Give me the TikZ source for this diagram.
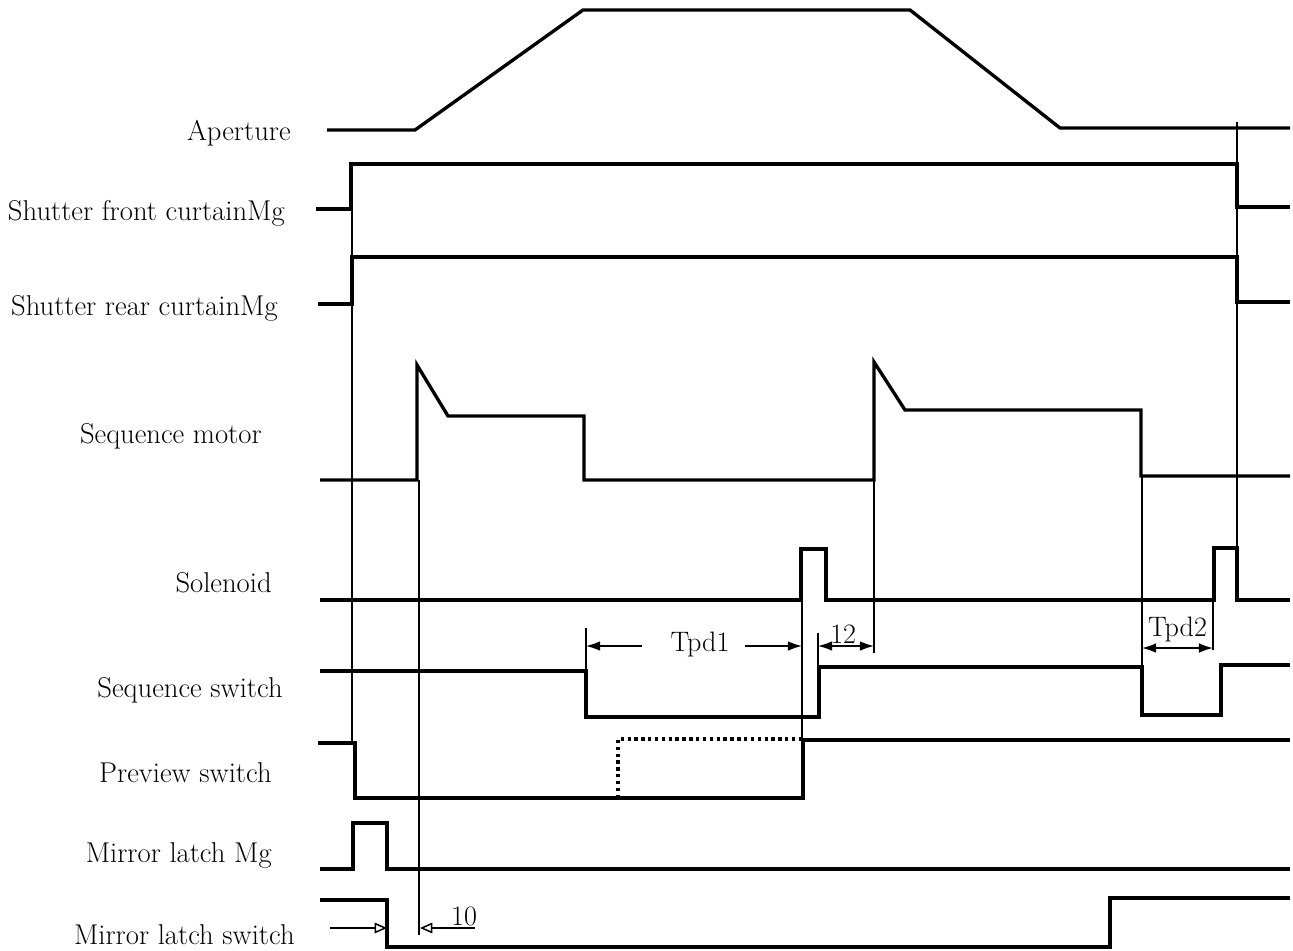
\documentclass[tikz,border=0pt]{standalone}
\usetikzlibrary{arrows.meta}
\tikzset{
  sig/.style={line width=1.9pt, line join=miter},
  guide/.style={line width=0.85pt},
  dim/.style={line width=0.85pt, {Latex[length=8pt,width=5.5pt]}-{Latex[length=8pt,width=5.5pt]}},
  dimr/.style={line width=0.85pt, -{Latex[length=8pt,width=5.5pt]}},
  opentip/.style={line width=0.85pt, -{Triangle[open,length=7pt,width=6pt]}},
  lbl/.style={anchor=east, inner sep=0pt, font=\fontsize{16.3}{19}\selectfont},
  dimlbl/.style={inner sep=1pt, font=\fontsize{16}{19}\selectfont},
}
\begin{document}
\begin{tikzpicture}[x=0.02cm, y=-0.02cm]
  \useasboundingbox (0,0) rectangle (1293,950);
  \def\r{1290}

  \node[lbl] (ap) at (291,133) {Aperture};
  \node[lbl] (sfc) at (285,213) {Shutter front curtainMg};
  \node[lbl] (src) at (278,308) {Shutter rear curtainMg};
  \node[lbl] (sm) at (262,436) {Sequence motor};
  \node[lbl] (sol) at (272,583) {Solenoid};
  \node[lbl] (ss) at (283,690) {Sequence switch};
  \node[lbl] (ps) at (272,773) {Preview switch};
  \node[lbl] (mlm) at (272,855) {Mirror latch Mg};
  \node[lbl] (mls) at (295,935) {Mirror latch switch};

  \draw[guide] (352,163) -- (352,742);
  \draw[guide] (419,480) -- (419,935);
  \draw[guide] (1237,122) -- (1237,548);
  \draw[guide] (874,480) -- (874,653);
  \draw[guide] (802,600) -- (802,740);
  \draw[guide] (1142,476) -- (1142,667);
  \draw[guide] (586,628) -- (586,672);
  \draw[guide] (818,633) -- (818,667);
  \draw[guide] (1213,600) -- (1213,650);

  \draw[sig] (327,130) -- (415,130) -- (583,10) -- (910,10) -- (1060,128) -- (\r,128);
  \draw[sig] (316,209) -- (351,209) -- (351,164) -- (1237,164) -- (1237,207) -- (\r,207);
  \draw[sig] (318,304) -- (352,304) -- (352,257) -- (1237,257) -- (1237,302) -- (\r,302);
  \draw[sig] (320,480) -- (417,480) -- (417,365) -- (448,416) -- (584,416) -- (584,480)
    -- (874,480) -- (874,362) -- (905,410) -- (1141,410) -- (1141,476) -- (\r,476);
  \draw[sig] (320,600) -- (801,600) -- (801,549) -- (826,549) -- (826,600)
    -- (1214,600) -- (1214,548) -- (1237,548) -- (1237,600) -- (\r,600);
  \draw[sig] (320,671) -- (586,671) -- (586,717) -- (819,717) -- (819,667)
    -- (1142,667) -- (1142,715) -- (1221,715) -- (1221,665) -- (\r,665);
  \draw[sig] (318,743) -- (355,743) -- (355,798) -- (803,798) -- (803,740) -- (\r,740);
  \draw[line width=1.9pt, dotted] (618,798) -- (618,739) -- (803,739);
  \draw[sig] (320,869) -- (353,869) -- (353,823) -- (387,823) -- (387,869) -- (\r,869);
  \draw[sig] (320,900) -- (387,900) -- (387,947) -- (1110,947) -- (1110,898) -- (\r,898);

  \coordinate (t1a) at (586,646);
  \coordinate (t1b) at (802,646);
  \coordinate (t1c) at (642,646);
  \coordinate (t1d) at (745,646);
  \node[dimlbl] (tpd1) at (700,644) {Tpd1};
  \draw[dimr] (t1c) -- (t1a);
  \draw[dimr] (t1d) -- (t1b);

  \coordinate (d12a) at (818,646);
  \coordinate (d12b) at (874,646);
  \draw[dim] (d12a) -- (d12b) node[pos=0.45, above, dimlbl] (n12) {12};

  \coordinate (t2a) at (1142,648);
  \coordinate (t2b) at (1213,648);
  \draw[dim] (t2a) -- (t2b) node[pos=0.5, above, dimlbl, yshift=2pt] (tpd2) {Tpd2};

  \coordinate (d10a) at (330,928);
  \coordinate (d10b) at (387,928);
  \coordinate (d10c) at (475,928);
  \coordinate (d10d) at (420,928);
  \draw[opentip] (d10a) -- (d10b);
  \draw[opentip] (d10c) -- (d10d) node[pos=0.2, above, dimlbl] (n10) {10};
\end{tikzpicture}
\end{document}
